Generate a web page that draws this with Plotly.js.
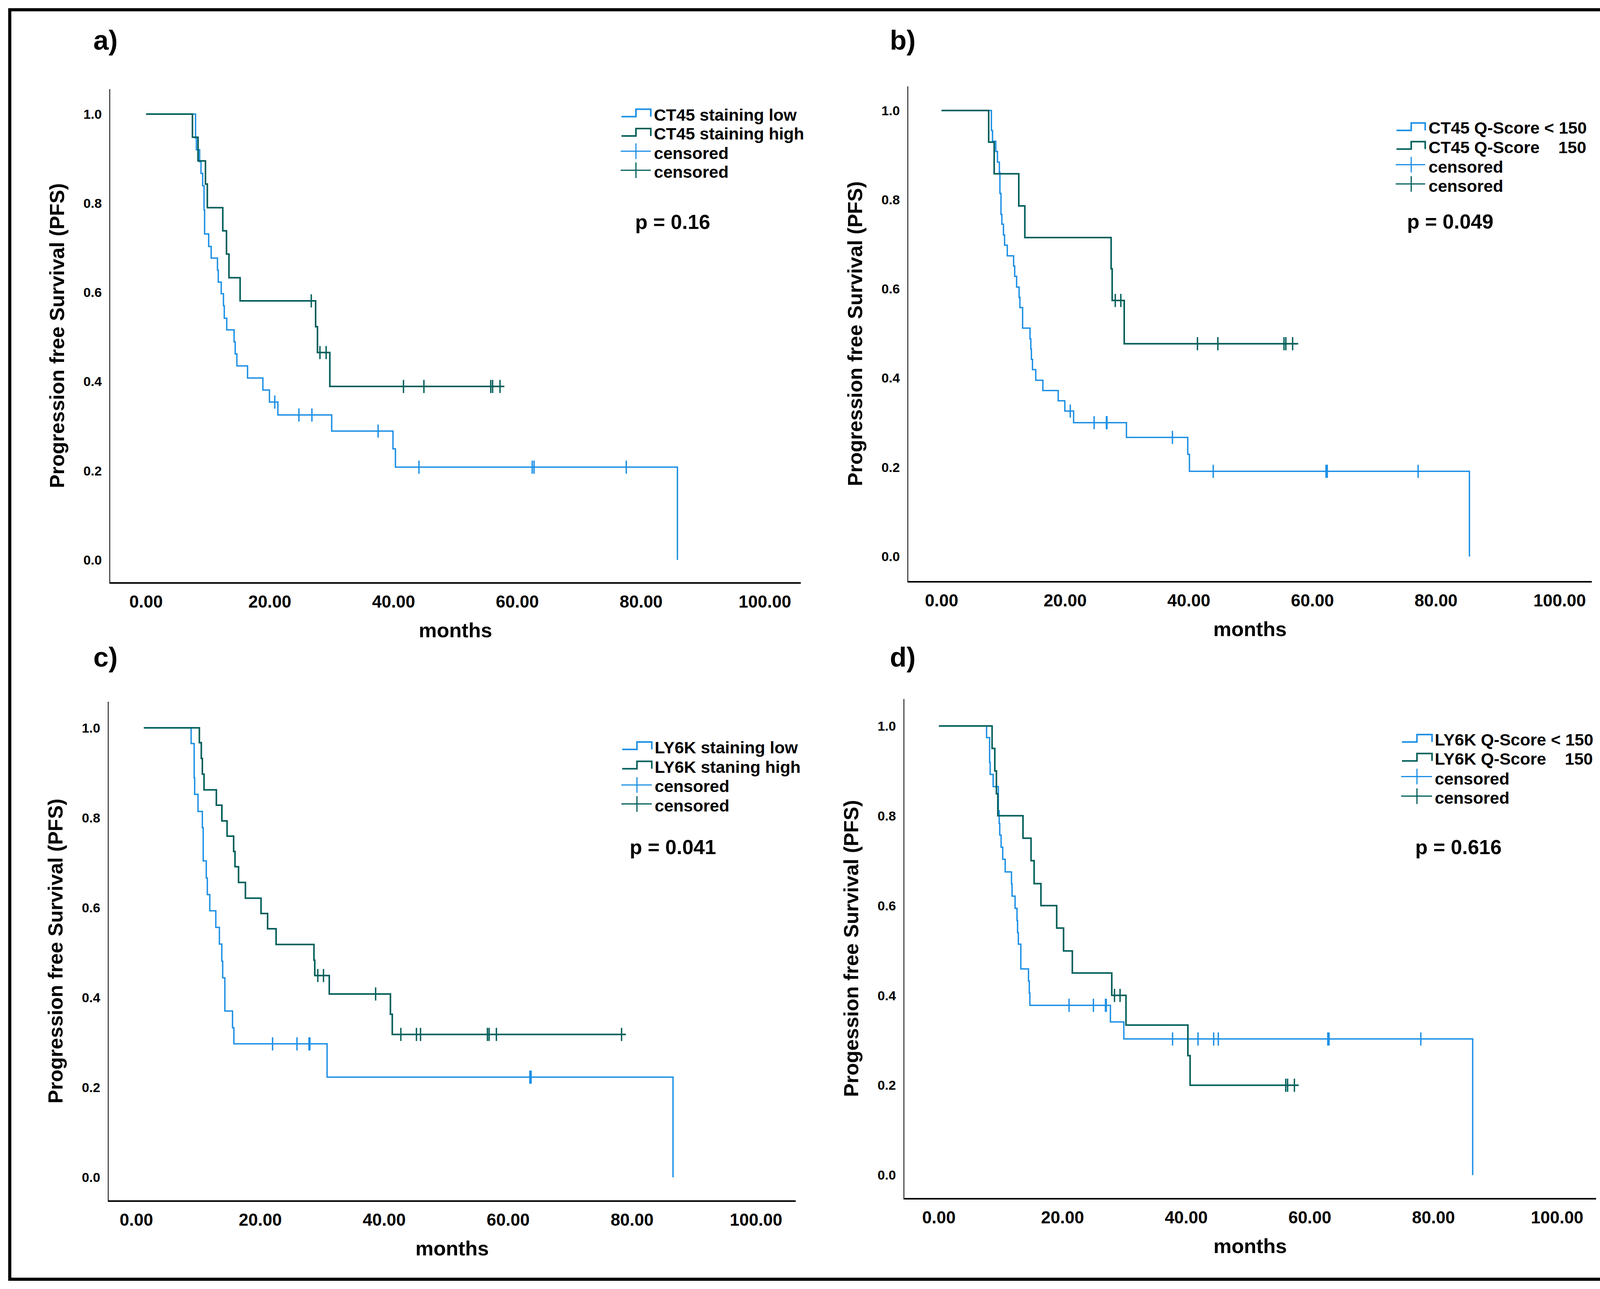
<!DOCTYPE html>
<html><head><meta charset="utf-8">
<script src="https://cdn.plot.ly/plotly-3.0.1.min.js"></script>
<style>html,body{margin:0;padding:0;background:#fff;}#chart{width:4185px;height:3299px;}</style>
</head><body><div id="chart"></div>
<script>
// ---------------- DATA ----------------
// Panel a) CT45 staining
const a_start = 0;
const a_low_t = [8.0, 8.13, 8.66, 8.88, 9.15, 9.37, 9.46, 10.12, 10.52, 11.54, 11.67, 12.15, 12.51, 12.64, 13.04, 14.23, 14.41, 14.68, 16.4, 18.88, 19.94, 21.3, 30.0, 39.9, 40.3, 85.87];
const a_low_s = [0.946, 0.920, 0.893, 0.867, 0.839, 0.785, 0.731, 0.703, 0.677, 0.650, 0.623, 0.597, 0.570, 0.542, 0.516, 0.489, 0.462, 0.435, 0.408, 0.381, 0.354, 0.325, 0.289, 0.249, 0.208, 0];
const a_low_c = [20.8, 24.7, 26.8, 37.5, 44.1, 62.4, 62.7, 77.6];
const a_low_end = 85.87;
const a_high_t = [7.5, 8.4, 9.6, 9.9, 12.4, 13.0, 13.4, 15.2, 27.4, 27.7, 29.7];
const a_high_s = [0.948, 0.895, 0.843, 0.790, 0.738, 0.686, 0.633, 0.581, 0.523, 0.465, 0.389];
const a_high_c = [26.7, 28.1, 29.1, 41.6, 44.9, 55.7, 56.0, 57.2];
const a_high_end = 57.9;

// Panel b) CT45 Q-Score
const b_start = 0;
const b_low_t = [8.06, 8.24, 8.77, 9.04, 9.35, 9.44, 9.61, 9.75, 10.01, 10.19, 10.63, 11.65, 11.83, 12.14, 12.54, 12.67, 13.11, 14.31, 14.44, 14.53, 14.71, 15.24, 16.39, 18.87, 19.94, 21.36, 29.91, 39.83, 40.10, 85.4];
const b_low_s = [0.955, 0.931, 0.908, 0.884, 0.861, 0.814, 0.767, 0.745, 0.721, 0.698, 0.674, 0.651, 0.628, 0.604, 0.581, 0.558, 0.512, 0.488, 0.465, 0.442, 0.419, 0.395, 0.372, 0.349, 0.326, 0.300, 0.267, 0.229, 0.191, 0];
const b_low_c = [20.82, 24.68, 26.67, 26.76, 37.35, 43.95, 62.2, 62.4, 77.1];
const b_low_end = 85.4;
const b_high_t = [7.62, 8.51, 12.49, 13.47, 27.43, 27.6, 29.55];
const b_high_s = [0.929, 0.858, 0.786, 0.715, 0.645, 0.574, 0.477];
const b_high_c = [28.1, 29.0, 41.4, 44.7, 55.4, 55.7, 56.8];
const b_high_end = 57.7;

// Panel c) LY6K staining
const c_start = 1.2;
const c_low_t = [8.84, 9.33, 9.41, 9.95, 10.65, 10.79, 11.28, 11.45, 11.85, 12.82, 13.40, 13.79, 13.93, 14.28, 15.52, 15.74, 30.78, 86.6];
const c_low_s = [0.965, 0.889, 0.852, 0.814, 0.778, 0.704, 0.666, 0.629, 0.593, 0.556, 0.519, 0.481, 0.444, 0.370, 0.333, 0.297, 0.223, 0];
const c_low_c = [21.98, 25.92, 27.86, 28.0, 63.5, 63.7];
const c_low_end = 86.6;
const c_high_t = [10.17, 10.48, 10.65, 10.92, 12.91, 13.80, 14.64, 15.70, 15.92, 16.49, 17.60, 20.12, 21.18, 22.55, 28.66, 28.79, 31.13, 41.0, 41.3];
const c_high_s = [0.967, 0.932, 0.897, 0.862, 0.828, 0.793, 0.759, 0.725, 0.691, 0.656, 0.621, 0.587, 0.553, 0.518, 0.483, 0.449, 0.408, 0.363, 0.318];
const c_high_c = [29.28, 30.2, 38.61, 42.68, 45.2, 45.86, 56.65, 56.92, 58.1, 78.3];
const c_high_end = 79.0;

// Panel d) LY6K Q-Score
const d_start = 0;
const d_low_t = [7.71, 8.2, 8.29, 8.77, 9.61, 9.75, 9.84, 10.06, 10.32, 10.72, 11.74, 11.83, 12.32, 12.63, 12.72, 12.85, 13.25, 14.49, 14.62, 14.71, 27.74, 29.91, 86.34];
const d_low_s = [0.974, 0.919, 0.892, 0.865, 0.811, 0.783, 0.757, 0.730, 0.703, 0.675, 0.648, 0.621, 0.594, 0.567, 0.540, 0.514, 0.459, 0.432, 0.405, 0.378, 0.341, 0.303, 0];
const d_low_c = [21.05, 24.99, 26.94, 27.07, 37.79, 41.91, 44.44, 45.19, 62.9, 63.1, 77.95];
const d_low_end = 86.34;
const d_high_t = [8.6, 9.04, 9.3, 9.53, 13.6, 14.9, 15.4, 16.5, 19.05, 20.16, 21.58, 27.96, 30.26, 40.27, 40.63];
const d_high_s = [0.950, 0.900, 0.849, 0.800, 0.750, 0.700, 0.649, 0.600, 0.550, 0.499, 0.450, 0.400, 0.334, 0.266, 0.200];
const d_high_c = [28.4, 29.3, 56.1, 56.4, 57.5];
const d_high_end = 58.2;

// Text
const panelLetters = ['a)', 'b)', 'c)', 'd)'];
const pValues = ['p = 0.16', 'p = 0.049', 'p = 0.041', 'p = 0.616'];
const legendLabels = [
  ['CT45 staining low', 'CT45 staining high', 'censored', 'censored'],
  ['CT45 Q-Score &lt; 150', 'CT45 Q-Score\u00a0\u00a0\u00a0\u00a0150', 'censored', 'censored'],
  ['LY6K staining low', 'LY6K staning high', 'censored', 'censored'],
  ['LY6K Q-Score &lt; 150', 'LY6K Q-Score\u00a0\u00a0\u00a0\u00a0150', 'censored', 'censored']
];
const yTitles = ['Progression free Survival (PFS)', 'Progression free Survival (PFS)', 'Progression free Survival (PFS)', 'Progession free Survival (PFS)'];
const xTitle = 'months';
const yTickVals = [0, 0.2, 0.4, 0.6, 0.8, 1.0];
const xTickVals = [0, 20, 40, 60, 80, 100];

// ---------------- LAYOUT / STYLE ----------------
const W = 4185, H = 3299;
const BLUE = '#1b8fe5', TEAL = '#005e59';
const FONT = 'Liberation Sans, Arial, Helvetica, sans-serif';
const P = x => x / W;
const Q = y => 1 - y / H;

function survAt(t, times, surv) {
  let v = 1;
  for (let i = 0; i < times.length; i++) { if (times[i] <= t) v = surv[i]; }
  return v;
}

const groups = [
  {start: a_start, low: [a_low_t, a_low_s, a_low_c, a_low_end], high: [a_high_t, a_high_s, a_high_c, a_high_end]},
  {start: b_start, low: [b_low_t, b_low_s, b_low_c, b_low_end], high: [b_high_t, b_high_s, b_high_c, b_high_end]},
  {start: c_start, low: [c_low_t, c_low_s, c_low_c, c_low_end], high: [c_high_t, c_high_s, c_high_c, c_high_end]},
  {start: d_start, low: [d_low_t, d_low_s, d_low_c, d_low_end], high: [d_high_t, d_high_s, d_high_c, d_high_end]}
];

// pixel geometry of each panel (plot area) in the 4185x3299 picture
const geom = [
  {xd: [282, 2050], yd: [228, 1490], xr: [-5.8, 105.8], yr: [-0.050, 1.056], lab: [270, 103], pv: [1722, 568],
   leg: {xL: 1591, xM: 1628, xR: 1666, xT: 1672, step: [298.6, 348], cens: [387, 435.7], txt: [294, 342, 392, 440.5]}},
  {xd: [2325, 4075], yd: [221, 1487], xr: [-5.4, 105.2], yr: [-0.055, 1.054], lab: [2311, 103], pv: [3712, 567],
   leg: {xL: 3575, xM: 3612.7, xR: 3648.5, xT: 3655, step: [333.7, 381.5], cens: [421.4, 470.8], txt: [327, 376.7, 427, 475.6]}},
  {xd: [278, 2037], yd: [1796, 3072], xr: [-4.48, 106.4], yr: [-0.051, 1.058], lab: [270, 1682], pv: [1722, 2168],
   leg: {xL: 1592.7, xM: 1630.6, xR: 1668.6, xT: 1674, step: [1918, 1967.5], cens: [2009, 2057.6], txt: [1913, 1962.7, 2012, 2061.6]}},
  {xd: [2315, 4086], yd: [1789, 3066], xr: [-5.6, 106.3], yr: [-0.051, 1.06], lab: [2311, 1682], pv: [3733, 2168],
   leg: {xL: 3589, xM: 3627.4, xR: 3666, xT: 3671, step: [1898.9, 1947.5], cens: [1987.4, 2037.6], txt: [1892.5, 1942, 1993, 2042.4]}}
];

const traces = [];
const layout = {
  width: W, height: H,
  margin: {l: 0, r: 0, t: 0, b: 0},
  paper_bgcolor: '#ffffff', plot_bgcolor: '#ffffff',
  showlegend: false,
  font: {family: FONT, color: '#000000'},
  annotations: [], shapes: []
};

function addCurve(start, data, sfx, color, width) {
  const [t, s, c, end] = data;
  const x = [start].concat(t);
  const y = [1].concat(s);
  if (end > t[t.length - 1]) { x.push(end); y.push(s[s.length - 1]); }
  traces.push({x: x, y: y, type: 'scatter', mode: 'lines', line: {shape: 'hv', color: color, width: width},
    xaxis: 'x' + sfx, yaxis: 'y' + sfx, hoverinfo: 'skip'});
  traces.push({x: c, y: c.map(v => survAt(v, t, s)), type: 'scatter', mode: 'markers',
    marker: {symbol: 'line-ns-open', size: 24, color: color, line: {color: color, width: 3.5}},
    xaxis: 'x' + sfx, yaxis: 'y' + sfx, hoverinfo: 'skip'});
}

groups.forEach((g, i) => {
  const sfx = i === 0 ? '' : String(i + 1);
  const G = geom[i];
  addCurve(g.start, g.low, sfx, BLUE, 3.5);
  addCurve(g.start, g.high, sfx, TEAL, 4);

  layout['xaxis' + sfx] = {
    domain: [P(G.xd[0]), P(G.xd[1])], range: G.xr, anchor: 'y' + sfx,
    showline: true, linecolor: '#000', linewidth: 3.5, showgrid: false, zeroline: false,
    ticks: '', tickvals: xTickVals, tickformat: '.2f', ticklabelstandoff: 9,
    tickfont: {family: FONT, size: 44, weight: 'bold', color: '#000'},
    title: {text: xTitle, font: {family: FONT, size: 52, weight: 'bold', color: '#000'}, standoff: 32},
    automargin: false, fixedrange: true
  };
  layout['yaxis' + sfx] = {
    domain: [Q(G.yd[1]), Q(G.yd[0])], range: G.yr, anchor: 'x' + sfx,
    showline: true, linecolor: '#000', linewidth: 2.5, showgrid: false, zeroline: false,
    ticks: '', tickvals: yTickVals, tickformat: '.1f', ticklabelstandoff: 12,
    tickfont: {family: FONT, size: 34, weight: 'bold', color: '#000'},
    title: {text: yTitles[i], font: {family: FONT, size: 52, weight: 'bold', color: '#000'}, standoff: 32},
    automargin: false, fixedrange: true
  };

  // panel letter
  layout.annotations.push({text: panelLetters[i], xref: 'paper', yref: 'paper', x: P(G.lab[0]), y: Q(G.lab[1]),
    xanchor: 'center', yanchor: 'middle', showarrow: false, font: {family: FONT, size: 70, weight: 'bold', color: '#000'}});
  // p value
  layout.annotations.push({text: pValues[i], xref: 'paper', yref: 'paper', x: P(G.pv[0]), y: Q(G.pv[1]),
    xanchor: 'center', yanchor: 'middle', showarrow: false, font: {family: FONT, size: 52, weight: 'bold', color: '#000'}});
  // legend
  const L = G.leg;
  const cols = [BLUE, TEAL];
  for (let k = 0; k < 2; k++) {
    const yl = L.step[k], yh = L.step[k] - 19;
    layout.shapes.push({type: 'path', xref: 'paper', yref: 'paper',
      path: 'M ' + P(L.xL) + ',' + Q(yl) + ' L ' + P(L.xM) + ',' + Q(yl) + ' L ' + P(L.xM) + ',' + Q(yh) +
            ' L ' + P(L.xR) + ',' + Q(yh) + ' L ' + P(L.xR) + ',' + Q(yl),
      line: {color: cols[k], width: 4}});
    const yc = L.cens[k];
    layout.shapes.push({type: 'line', xref: 'paper', yref: 'paper', x0: P(L.xL - 2), x1: P(L.xR), y0: Q(yc), y1: Q(yc),
      line: {color: cols[k], width: 3}});
    layout.shapes.push({type: 'line', xref: 'paper', yref: 'paper', x0: P(L.xM), x1: P(L.xM), y0: Q(yc - 20), y1: Q(yc + 20),
      line: {color: cols[k], width: 3}});
  }
  for (let r = 0; r < 4; r++) {
    layout.annotations.push({text: legendLabels[i][r], xref: 'paper', yref: 'paper', x: P(L.xT), y: Q(L.txt[r]),
      xanchor: 'left', yanchor: 'middle', showarrow: false, font: {family: FONT, size: 43, weight: 'bold', color: '#000'}});
  }
});

// outer frame
layout.shapes.push({type: 'rect', xref: 'paper', yref: 'paper', x0: P(25), x1: P(4160), y0: Q(25), y1: Q(3274),
  line: {color: '#000', width: 8}, fillcolor: 'rgba(0,0,0,0)'});

Plotly.newPlot('chart', traces, layout, {staticPlot: true, displayModeBar: false});
</script>
</body></html>
